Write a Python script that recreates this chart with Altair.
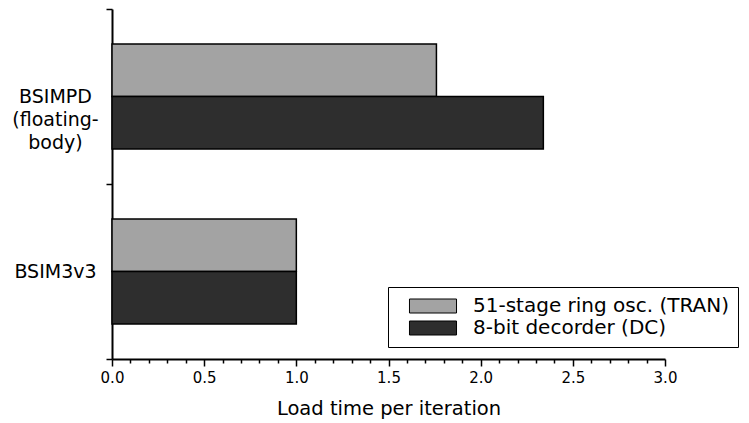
import altair as alt
import pandas as pd

# Simulator models (rows) and benchmark circuits (series)
models = ["BSIMPD\n(floating-\nbody)", "BSIM3v3"]
series = ["51-stage ring osc. (TRAN)", "8-bit decorder (DC)"]

# Normalised load time per iteration, one list per series
ring_osc = [1.76, 1.0]
decoder = [2.34, 1.0]

series_colors = ["#a3a3a3", "#2e2e2e"]

x_ticks = [0.0, 0.1, 0.2, 0.3, 0.4, 0.5, 0.6, 0.7, 0.8, 0.9,
           1.0, 1.1, 1.2, 1.3, 1.4, 1.5, 1.6, 1.7, 1.8, 1.9,
           2.0, 2.1, 2.2, 2.3, 2.4, 2.5, 2.6, 2.7, 2.8, 2.9, 3.0]

rows = []
for m, a, b in zip(models, ring_osc, decoder):
    rows.append({"model": m, "circuit": series[0], "time": a})
    rows.append({"model": m, "circuit": series[1], "time": b})
df = pd.DataFrame(rows)

FONT = "DejaVu Sans"
major = "abs(datum.value * 2 - round(datum.value * 2)) < 0.000001"

bars = alt.Chart(df).mark_bar(stroke="black", strokeWidth=1.5).encode(
    x=alt.X(
        "time:Q",
        scale=alt.Scale(domain=[0, 3], nice=False, zero=True),
        axis=alt.Axis(
            title="Load time per iteration",
            values=x_ticks,
            labelExpr=f"{major} ? format(datum.value, '.1f') : ''",
            labelOverlap=False,
            labelFlush=False,
            labelFont=FONT,
            labelFontSize=15,
            labelColor="black",
            labelPadding=4,
            tickColor="black",
            tickWidth=1.5,
            tickSize=alt.ConditionalAxisNumber(
                condition={"test": major, "value": 7}, value=4
            ),
            domainColor="black",
            domainWidth=2,
            grid=False,
            titleFont=FONT,
            titleFontSize=19.5,
            titleFontWeight="normal",
            titleColor="black",
            titlePadding=14,
        ),
    ),
    y=alt.Y(
        "model:N",
        sort=models,
        scale=alt.Scale(paddingInner=0, paddingOuter=0),
        axis=alt.Axis(
            title=None,
            tickBand="extent",
            labelExpr="split(datum.label, '\\n')",
            labelAlign="center",
            labelBaseline="middle",
            labelPadding=51,
            labelLineHeight=23,
            labelFont=FONT,
            labelFontSize=19,
            labelColor="black",
            tickColor="black",
            tickWidth=1.5,
            tickSize=6,
            domainColor="black",
            domainWidth=2,
            grid=False,
        ),
    ),
    yOffset=alt.YOffset(
        "circuit:N",
        sort=series,
        scale=alt.Scale(paddingInner=0, paddingOuter=0.67),
    ),
    color=alt.Color(
        "circuit:N",
        sort=series,
        scale=alt.Scale(domain=series, range=series_colors),
        legend=alt.Legend(
            title=None,
            orient="none",
            legendX=276,
            legendY=278,
            direction="vertical",
            symbolType="M-3.36,-1H3.36V1H-3.36Z",
            symbolSize=196,
            symbolOffset=26,
            symbolStrokeColor="black",
            symbolStrokeWidth=1,
            labelFont=FONT,
            labelFontSize=20,
            labelColor="black",
            labelLimit=0,
            labelOffset=30,
            rowPadding=2,
            padding=9,
            strokeColor="black",
            fillColor="white",
        ),
    ),
)

chart = bars.properties(
    width=553,
    height=350,
    autosize=alt.AutoSizeParams(type="none"),
    padding={"left": 112, "top": 9, "right": 84, "bottom": 64},
    background="white",
).configure_view(stroke=None)

chart.save("out.html", embed_options={"renderer": "svg", "actions": False})
